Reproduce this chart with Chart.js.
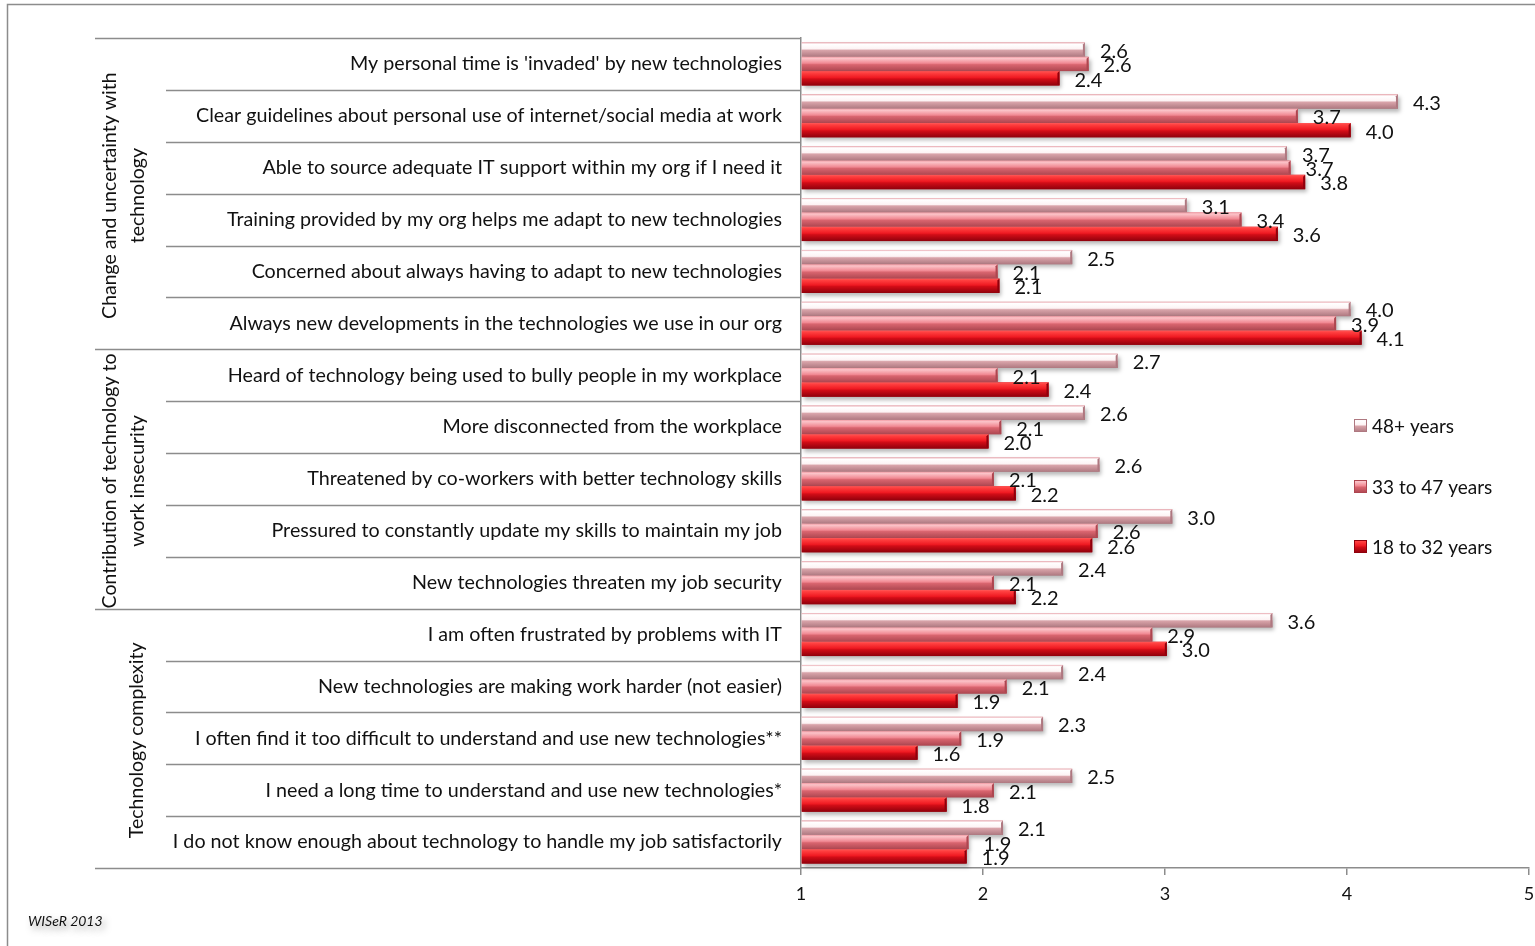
<!DOCTYPE html>
<html>
<head>
<meta charset="utf-8">
<title>Technology at work by age group</title>
<script src="https://cdn.jsdelivr.net/npm/chart.js@4.4.1/dist/chart.umd.min.js"></script>
<style>
  body { margin: 0; background: #fff; }
  canvas { display: block; }
</style>
</head>
<body>
<canvas id="myChart" width="1535" height="946"></canvas>
<script>
let labels = [
  "My personal time is 'invaded' by new technologies",
  'Clear guidelines about personal use of internet/social media at work',
  'Able to source adequate IT support within my org if I need it',
  'Training provided by my org helps me adapt to new technologies',
  'Concerned about always having to adapt to new technologies',
  'Always new developments in the technologies we use in our org',
  'Heard of technology being used to bully people in my workplace',
  'More disconnected from the workplace',
  'Threatened by co-workers with better technology skills',
  'Pressured to constantly update my skills to maintain my job',
  'New technologies threaten my job security',
  'I am often frustrated by problems with IT',
  'New technologies are making work harder (not easier)',
  'I often find it too difficult to understand and use new technologies**',
  'I need a long time to understand and use new technologies*',
  'I do not know enough about technology to handle my job satisfactorily'
];

// mean scores, 1 = strongly disagree ... 5 = strongly agree
let age48plus = [2.56, 4.28, 3.67, 3.12, 2.49, 4.02, 2.74, 2.56, 2.64, 3.04, 2.44, 3.59, 2.44, 2.33, 2.49, 2.11];
let age33to47 = [2.58, 3.73, 3.69, 3.42, 2.08, 3.94, 2.08, 2.10, 2.06, 2.63, 2.06, 2.93, 2.13, 1.88, 2.06, 1.92];
let age18to32 = [2.42, 4.02, 3.77, 3.62, 2.09, 4.08, 2.36, 2.03, 2.18, 2.60, 2.18, 3.01, 1.86, 1.64, 1.80, 1.91];
let seriesNames = ['48+ years', '33 to 47 years', '18 to 32 years'];

let groupNames = [
  ['Change and uncertainty with', 'technology'],
  ['Contribution of technology to', 'work insecurity'],
  ['Technology complexity']
];
let groupFirst = [0, 6, 11];
let groupLast = [5, 10, 15];

let xTicks = [1, 2, 3, 4, 5];

let baseColors = ['#e6b8bd', '#e97a84', '#e41b23'];
let shades = [
  ['#e9a5ad', '#ffffff', '#fdf3f4', '#d9a4aa', '#ae7880'],
  ['#f29aa3', '#fbc3c8', '#f18993', '#d9656f', '#ad4650'],
  ['#ff5a5a', '#ff4040', '#ef1a22', '#d20d17', '#8f000c']
];
let shadeStops = [0, 0.12, 0.45, 0.55, 1];

const FONT = 'Lato, "Open Sans", sans-serif';
const GRAY = '#8c8c8c';

function shadeFor(ctx, s, top, h) {
  let g = ctx.createLinearGradient(0, top, 0, top + h);
  shades[s].forEach((c, k) => g.addColorStop(shadeStops[k], c));
  return g;
}

// glossy bars with a soft drop shadow, then the value labels
const barShine = {
  id: 'barShine',
  afterDatasetsDraw(chart) {
    const ctx = chart.ctx;
    chart.data.datasets.forEach((ds, i) => {
      const meta = chart.getDatasetMeta(i);
      meta.data.forEach((bar) => {
        const p = bar.getProps(['x', 'y', 'base', 'height'], true);
        const top = p.y - p.height / 2;
        ctx.save();
        ctx.shadowColor = 'rgba(0,0,0,0.28)';
        ctx.shadowBlur = 4;
        ctx.shadowOffsetX = 2;
        ctx.shadowOffsetY = 3;
        ctx.fillStyle = shadeFor(ctx, i, top, p.height);
        ctx.fillRect(p.base, top, p.x - p.base, p.height);
        ctx.restore();
        // bevelled end cap
        ctx.save();
        ctx.fillStyle = shades[i][4];
        ctx.beginPath();
        ctx.moveTo(p.x - 2, top + 2);
        ctx.lineTo(p.x, top);
        ctx.lineTo(p.x, top + p.height);
        ctx.lineTo(p.x - 2, top + p.height - 2);
        ctx.closePath();
        ctx.fill();
        ctx.restore();
      });
    });
    ctx.save();
    ctx.font = '20px ' + FONT;
    ctx.fillStyle = '#111';
    ctx.textBaseline = 'middle';
    ctx.textAlign = 'left';
    chart.data.datasets.forEach((ds, i) => {
      chart.getDatasetMeta(i).data.forEach((bar, j) => {
        const p = bar.getProps(['x', 'y'], true);
        ctx.fillText(ds.data[j].toFixed(1), p.x + 15, p.y + 2);
      });
    });
    ctx.restore();
  }
};

// frame, category dividers, group titles, legend and source note
const frame = {
  id: 'frame',
  afterDraw(chart) {
    const ctx = chart.ctx;
    const area = chart.chartArea;
    const y = chart.scales.y;
    const n = labels.length;
    const edge = (k) => k === 0 ? area.top : k === n ? area.bottom :
      (y.getPixelForValue(k - 1) + y.getPixelForValue(k)) / 2;

    ctx.save();
    ctx.strokeStyle = GRAY;
    ctx.lineWidth = 1.5;
    ctx.strokeRect(7.5, 4.5, chart.width, chart.height);

    ctx.beginPath();
    for (let k = 0; k <= n; k++) {
      const py = Math.round(edge(k)) + 0.5;
      const isGroup = k === 0 || k === n || groupFirst.includes(k);
      ctx.moveTo(isGroup ? 95 : 166, py);
      ctx.lineTo(area.left, py);
    }
    ctx.stroke();

    // group titles, rotated
    ctx.fillStyle = '#111';
    ctx.font = '19.5px ' + FONT;
    ctx.textAlign = 'center';
    ctx.textBaseline = 'middle';
    groupNames.forEach((lines, g) => {
      const cy = (edge(groupFirst[g]) + edge(groupLast[g] + 1)) / 2;
      const xs = lines.length === 2 ? [110, 138] : [137];
      lines.forEach((t, k) => {
        ctx.save();
        ctx.translate(xs[k], cy + 2);
        ctx.rotate(-Math.PI / 2);
        ctx.fillText(t, 0, 0);
        ctx.restore();
      });
    });

    // legend
    const lx = 1354, ly = [426, 487, 547];
    ctx.font = '19px ' + FONT;
    ctx.textAlign = 'left';
    seriesNames.forEach((name, i) => {
      const top = ly[i] - 7;
      ctx.fillStyle = shadeFor(ctx, i, top, 13);
      ctx.fillRect(lx, top, 13, 13);
      ctx.strokeStyle = shades[i][4];
      ctx.lineWidth = 1;
      ctx.strokeRect(lx + 0.5, top + 0.5, 12, 12);
      ctx.fillStyle = '#111';
      ctx.fillText(name, lx + 18, ly[i] + 1);
    });

    // source note
    ctx.font = 'italic 14px ' + FONT;
    ctx.shadowColor = 'rgba(0,0,0,0.35)';
    ctx.shadowBlur = 6;
    ctx.shadowOffsetX = 3;
    ctx.shadowOffsetY = 4;
    ctx.fillText('WISeR 2013', 28, 921);
    ctx.restore();
  }
};

let ctx = document.getElementById('myChart').getContext('2d');
let datasets = [age48plus, age33to47, age18to32].map((values, i) => ({
  label: seriesNames[i],
  data: values,
  base: 1,
  backgroundColor: baseColors[i],
  categoryPercentage: 0.83,
  barPercentage: 1.0
}));

let myChart = new Chart(ctx, {
  type: 'bar',
  data: { labels: labels, datasets: datasets },
  options: {
    indexAxis: 'y',
    responsive: false,
    animation: false,
    layout: { padding: { top: 38, right: 6, bottom: 0, left: 0 } },
    plugins: {
      legend: { display: false },
      tooltip: { enabled: false }
    },
    scales: {
      x: {
        min: 1,
        max: 5,
        afterBuildTicks: (s) => { s.ticks = xTicks.map(v => ({ value: v })); },
        afterFit: (s) => { s.height = 78; s.paddingLeft = 0; s.paddingRight = 0; },
        border: { color: GRAY, width: 1.5 },
        grid: { drawOnChartArea: false, tickLength: 7, color: GRAY, lineWidth: 1.5 },
        ticks: { color: '#111', padding: 8, font: { family: FONT, size: 18 } }
      },
      y: {
        afterFit: (s) => { s.width = 801; },
        border: { color: GRAY, width: 1.5 },
        grid: { display: false, drawTicks: false },
        ticks: { color: '#111', padding: 19, autoSkip: false, font: { family: FONT, size: 19.7 } }
      }
    }
  },
  plugins: [barShine, frame]
});
</script>
</body>
</html>
